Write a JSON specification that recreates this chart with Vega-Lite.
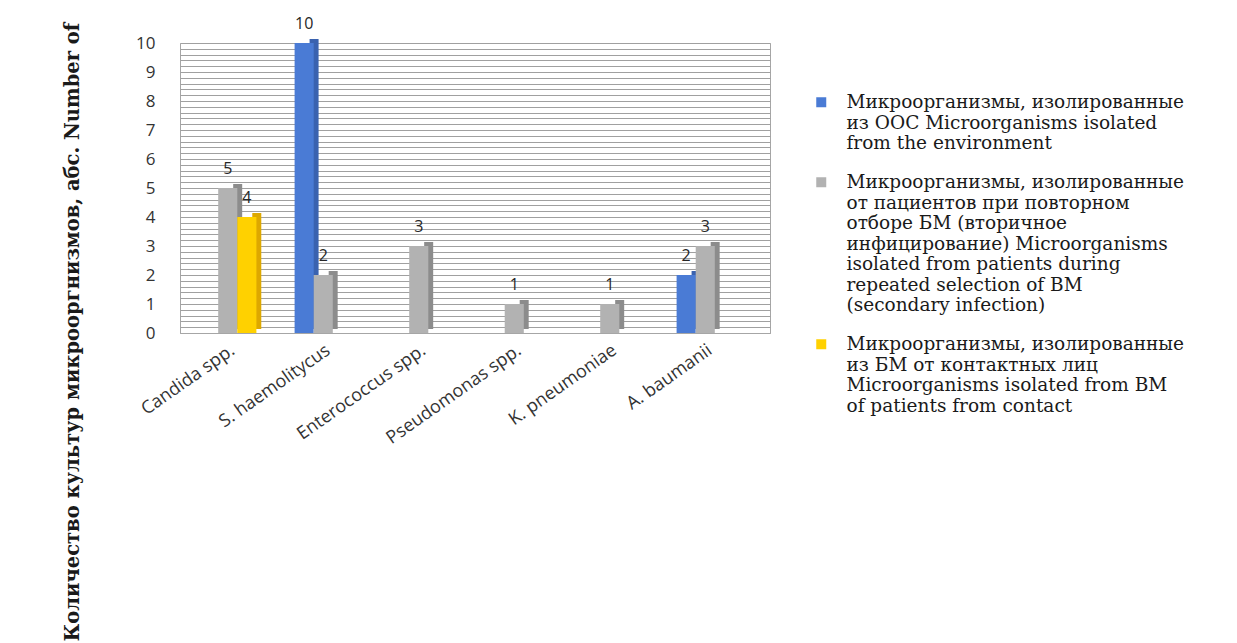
{
  "$schema": "https://vega.github.io/schema/vega-lite/v6.json",
  "width": 590,
  "height": 290,
  "autosize": {"type": "none"},
  "padding": {"left": 180, "top": 43, "right": 467, "bottom": 310},
  "background": "white",
  "data": {
    "values": [
      {"organism": "Candida spp.", "series": "Микроорганизмы, изолированные от пациентов при повторном отборе БМ (вторичное инфицирование) Microorganisms isolated from patients during repeated selection of BM (secondary infection)", "count": 5},
      {"organism": "Candida spp.", "series": "Микроорганизмы, изолированные из БМ от контактных лиц Microorganisms isolated from BM of patients from contact", "count": 4},
      {"organism": "S. haemolitycus", "series": "Микроорганизмы, изолированные из ООС Microorganisms isolated from the environment", "count": 10},
      {"organism": "S. haemolitycus", "series": "Микроорганизмы, изолированные от пациентов при повторном отборе БМ (вторичное инфицирование) Microorganisms isolated from patients during repeated selection of BM (secondary infection)", "count": 2},
      {"organism": "Enterococcus spp.", "series": "Микроорганизмы, изолированные от пациентов при повторном отборе БМ (вторичное инфицирование) Microorganisms isolated from patients during repeated selection of BM (secondary infection)", "count": 3},
      {"organism": "Pseudomonas spp.", "series": "Микроорганизмы, изолированные от пациентов при повторном отборе БМ (вторичное инфицирование) Microorganisms isolated from patients during repeated selection of BM (secondary infection)", "count": 1},
      {"organism": "K. pneumoniae", "series": "Микроорганизмы, изолированные от пациентов при повторном отборе БМ (вторичное инфицирование) Microorganisms isolated from patients during repeated selection of BM (secondary infection)", "count": 1},
      {"organism": "A. baumanii", "series": "Микроорганизмы, изолированные из ООС Microorganisms isolated from the environment", "count": 2},
      {"organism": "A. baumanii", "series": "Микроорганизмы, изолированные от пациентов при повторном отборе БМ (вторичное инфицирование) Microorganisms isolated from patients during repeated selection of BM (secondary infection)", "count": 3}
    ]
  },
  "encoding": {
    "x": {
      "field": "organism",
      "type": "nominal",
      "scale": {
        "domain": ["Candida spp.", "S. haemolitycus", "Enterococcus spp.", "Pseudomonas spp.", "K. pneumoniae", "A. baumanii"],
        "paddingInner": 0,
        "paddingOuter": 0.089,
        "align": 0
      },
      "axis": {
        "title": null,
        "domain": true,
        "domainColor": "#a6a6a6",
        "ticks": false,
        "grid": false,
        "labelAngle": -35,
        "labelFont": "Open Sans",
        "labelFontSize": 18,
        "labelPadding": 8,
        "labelColor": "#333333"
      }
    },
    "y": {
      "field": "count",
      "type": "quantitative",
      "scale": {"domain": [0, 10], "nice": false},
      "axis": {
        "domain": false,
        "ticks": false,
        "tickCount": 50,
        "labelOverlap": false,
        "labelExpr": "datum.value % 1 === 0 ? datum.value : ''",
        "gridColor": "#a0a0a0",
        "gridWidth": 1,
        "labelPadding": 25,
        "labelFont": "Open Sans",
        "labelFontSize": 17,
        "labelColor": "#333333",
        "title": "Количество культур микрооргнизмов, абс. Number of",
        "titleFont": "DejaVu Serif",
        "titleFontWeight": "bold",
        "titleFontSize": 19.5,
        "titleColor": "#1a1a1a",
        "titleAngle": 270,
        "titleAlign": "left",
        "titleBaseline": "alphabetic",
        "titleX": -102,
        "titleY": 598
      }
    }
  },
  "layer": [
    {
      "mark": {"type": "bar", "width": 9, "yOffset": -4},
      "encoding": {
        "xOffset": {
          "field": "series",
          "type": "nominal",
          "scale": {
            "domain": [
              "Микроорганизмы, изолированные из ООС Microorganisms isolated from the environment",
              "Микроорганизмы, изолированные от пациентов при повторном отборе БМ (вторичное инфицирование) Microorganisms isolated from patients during repeated selection of BM (secondary infection)",
              "Микроорганизмы, изолированные из БМ от контактных лиц Microorganisms isolated from BM of patients from contact"
            ],
            "paddingInner": 0,
            "paddingOuter": 1.43,
            "align": 0.76
          }
        },
        "color": {
          "field": "series",
          "type": "nominal",
          "scale": {
            "domain": [
              "Микроорганизмы, изолированные из ООС Microorganisms isolated from the environment",
              "Микроорганизмы, изолированные от пациентов при повторном отборе БМ (вторичное инфицирование) Microorganisms isolated from patients during repeated selection of BM (secondary infection)",
              "Микроорганизмы, изолированные из БМ от контактных лиц Microorganisms isolated from BM of patients from contact"
            ],
            "range": ["#3A62AF", "#8C8C8C", "#DDA800"]
          },
          "legend": null
        }
      }
    },
    {
      "layer": [
        {
          "mark": {"type": "bar"},
          "encoding": {
            "color": {
              "field": "series",
              "type": "nominal",
              "scale": {
                "domain": [
                  "Микроорганизмы, изолированные из ООС Microorganisms isolated from the environment",
                  "Микроорганизмы, изолированные от пациентов при повторном отборе БМ (вторичное инфицирование) Microorganisms isolated from patients during repeated selection of BM (secondary infection)",
                  "Микроорганизмы, изолированные из БМ от контактных лиц Microorganisms isolated from BM of patients from contact"
                ],
                "range": ["#4A7BD5", "#B2B2B2", "#FFD100"]
              },
              "legend": {
                "title": null,
                "orient": "none",
                "legendX": 632,
                "legendY": 50,
                "symbolType": "square",
                "symbolSize": 100,
                "symbolStrokeWidth": 0,
                "labelFont": "DejaVu Serif",
                "labelFontSize": 18.5,
                "labelColor": "#1a1a1a",
                "labelLimit": 500,
                "labelOffset": 16,
                "labelBaseline": "middle",
                "rowPadding": 20,
                "labelExpr": "indexof(datum.value, 'ООС') >= 0 ? ['Микроорганизмы, изолированные', 'из ООС Microorganisms isolated', 'from the environment'] : indexof(datum.value, 'вторичное') >= 0 ? ['Микроорганизмы, изолированные', 'от пациентов при повторном', 'отборе БМ (вторичное', 'инфицирование) Microorganisms', 'isolated from patients during', 'repeated selection of BM', '(secondary infection)'] : ['Микроорганизмы, изолированные', 'из БМ от контактных лиц', 'Microorganisms isolated from BM', 'of patients from contact']"
              }
            }
          }
        },
        {
          "mark": {"type": "text", "font": "Open Sans", "fontSize": 16, "color": "#262626", "baseline": "middle", "dy": -19},
          "encoding": {
            "text": {"field": "count", "type": "quantitative"}
          }
        }
      ],
      "encoding": {
        "xOffset": {
          "field": "series",
          "type": "nominal",
          "scale": {
            "domain": [
              "Микроорганизмы, изолированные из ООС Microorganisms isolated from the environment",
              "Микроорганизмы, изолированные от пациентов при повторном отборе БМ (вторичное инфицирование) Microorganisms isolated from patients during repeated selection of BM (secondary infection)",
              "Микроорганизмы, изолированные из БМ от контактных лиц Microorganisms isolated from BM of patients from contact"
            ],
            "paddingInner": 0,
            "paddingOuter": 1.43
          }
        }
      }
    }
  ],
  "resolve": {"scale": {"color": "independent", "xOffset": "independent"}},
  "config": {
    "view": {"stroke": "#a6a6a6"}
  }
}
